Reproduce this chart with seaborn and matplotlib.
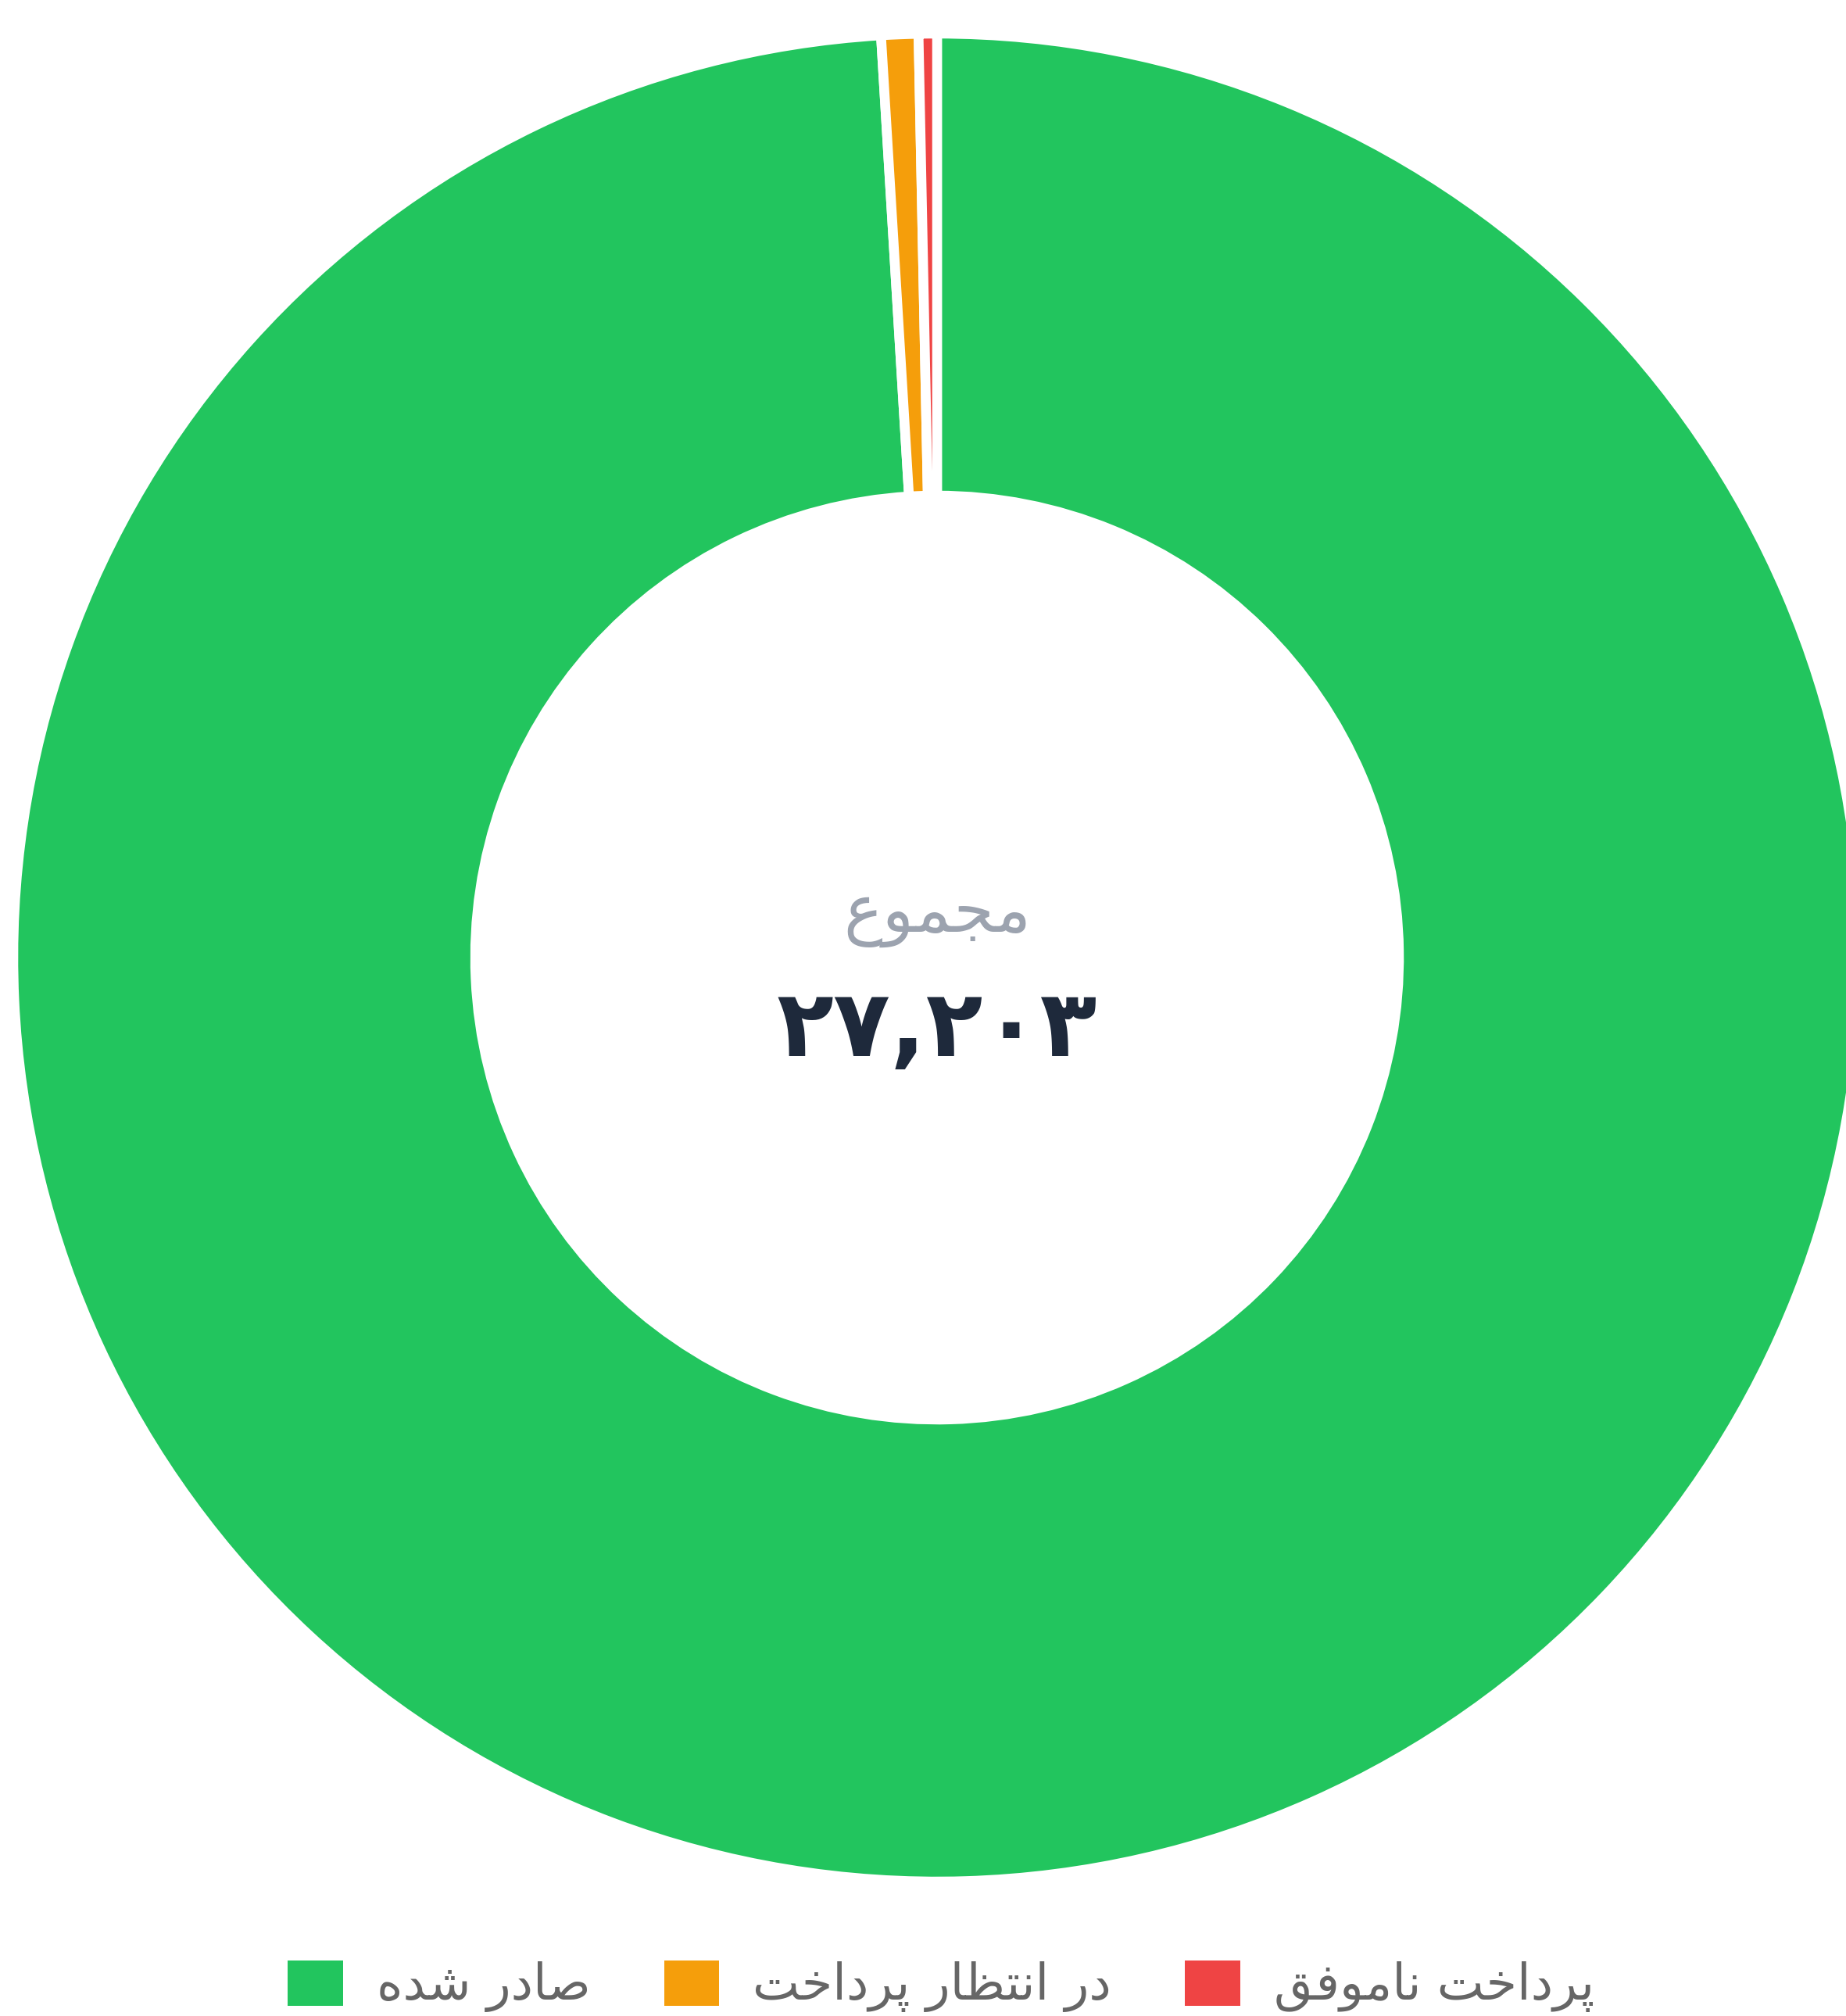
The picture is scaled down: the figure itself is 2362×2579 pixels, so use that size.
import matplotlib
matplotlib.use("Agg")
import matplotlib.pyplot as plt
from matplotlib.patches import Patch
import seaborn as sns

# --- Data ---
labels = ["صادر شده", "در انتظار پرداخت", "پرداخت ناموفق"]
values = [26940, 176, 87]
colors = ["#22C55E", "#F59E0B", "#EF4444"]
center_title = "مجموع"
total_label = "۲۷,۲۰۳"

# --- Minimal Persian shaping (matplotlib has no bidi / joining support) ---
# letter: (isolated, final, initial, medial); right-joining letters have no initial/medial
FORMS = {
    "ا": ("\uFE8D", "\uFE8E", None, None),
    "د": ("\uFEA9", "\uFEAA", None, None),
    "ر": ("\uFEAD", "\uFEAE", None, None),
    "و": ("\uFEED", "\uFEEE", None, None),
    "م": ("\uFEE1", "\uFEE2", "\uFEE3", "\uFEE4"),
    "ج": ("\uFE9D", "\uFE9E", "\uFE9F", "\uFEA0"),
    "ع": ("\uFEC9", "\uFECA", "\uFECB", "\uFECC"),
    "ص": ("\uFEB9", "\uFEBA", "\uFEBB", "\uFEBC"),
    "ش": ("\uFEB5", "\uFEB6", "\uFEB7", "\uFEB8"),
    "ه": ("\uFEE9", "\uFEEA", "\uFEEB", "\uFEEC"),
    "ن": ("\uFEE5", "\uFEE6", "\uFEE7", "\uFEE8"),
    "ت": ("\uFE95", "\uFE96", "\uFE97", "\uFE98"),
    "ظ": ("\uFEC5", "\uFEC6", "\uFEC7", "\uFEC8"),
    "پ": ("\uFB56", "\uFB57", "\uFB58", "\uFB59"),
    "خ": ("\uFEA5", "\uFEA6", "\uFEA7", "\uFEA8"),
    "ف": ("\uFED1", "\uFED2", "\uFED3", "\uFED4"),
    "ق": ("\uFED5", "\uFED6", "\uFED7", "\uFED8"),
}


def shape(text):
    out = []
    for i, ch in enumerate(text):
        if ch not in FORMS:
            out.append(ch)
            continue
        prev = text[i - 1] if i > 0 else ""
        nxt = text[i + 1] if i + 1 < len(text) else ""
        join_prev = prev in FORMS and FORMS[prev][2] is not None
        join_next = nxt in FORMS and FORMS[ch][2] is not None
        iso, fin, ini, med = FORMS[ch]
        if join_prev and join_next:
            out.append(med)
        elif join_prev:
            out.append(fin)
        elif join_next:
            out.append(ini)
        else:
            out.append(iso)
    return "".join(reversed(out))


sns.set_theme(style="white")
plt.rcParams["font.family"] = ["DejaVu Sans"]

W, H = 2362, 2579
fig = plt.figure(figsize=(W / 100, H / 100), dpi=100)
fig.patch.set_facecolor("white")

# donut geometry in pixels
cx, cy = 1199, 2579 - 1225
R = 1182
ax = fig.add_axes([(cx - R) / W, (cy - R) / H, 2 * R / W, 2 * R / H])
ax.pie(values, colors=colors, startangle=90, counterclock=False, radius=1,
       wedgeprops=dict(width=0.5, edgecolor="white", linewidth=9))
ax.set_xlim(-1, 1)
ax.set_ylim(-1, 1)
ax.set_aspect("equal")
ax.axis("off")

# center text
fig.text(cx / W, (H - 1172) / H, shape(center_title), ha="center", va="center",
         fontsize=60, color="#9CA3AF")
fig.text(cx / W, (H - 1318) / H, total_label, ha="center", va="center",
         fontsize=86, fontweight="bold", color="#1E293B")

# legend
handles = [Patch(facecolor=c, edgecolor="none") for c in colors]
fig.legend(handles, [shape(l) for l in labels], loc="center",
           bbox_to_anchor=(1204 / W, (H - 2541) / H), ncol=3, frameon=False,
           fontsize=46, handlelength=1.11, handleheight=1.02,
           handletextpad=0.67, columnspacing=1.47, labelcolor="#666666")

plt.savefig("out.png", dpi=100, facecolor="white")
